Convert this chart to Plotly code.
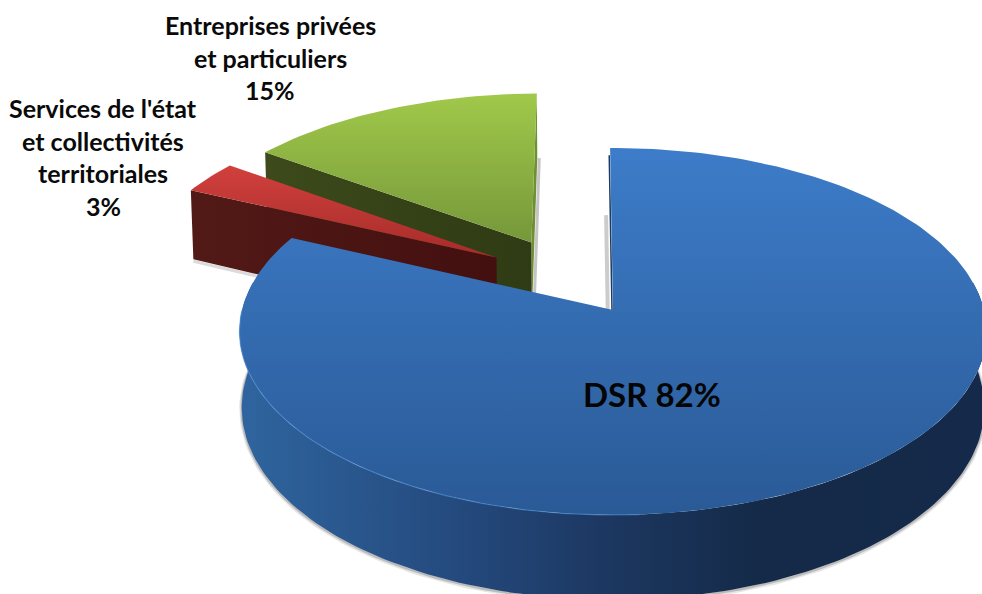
import numpy as np
import plotly.graph_objects as go

# shares in percent, clockwise from 12 o'clock
names = ["DSR", "Services", "Entreprises"]
shares = [82, 3, 15]
# exploded offset of each slice in disc units (right, back)
explode_u = [0, -0.325, -0.23]
explode_v = [0, 0.30, 0.39]

top_colors = [("#3d7cc9", "#2a5a96"), ("#d1403d", "#a52c2a"), ("#a0c84a", "#76983a")]

label_lines = [
    ("Entreprises privées", 270, 25), ("et particuliers", 270, 58), ("15%", 270, 90),
    ("Services de l'état", 103, 108), ("et collectivités", 103, 141),
    ("territoriales", 103, 173), ("3%", 103, 206),
]

CX, CY = 613, 310
A, B, K, D = 371, 181, 0.117, 75
font = "Lato, Carlito, sans-serif"


def project(theta, r=1.0, du=0.0, dv=0.0, z=0.0):
    u = r * np.sin(theta) + du
    v = r * np.cos(theta) + dv
    w = 1 + K * v
    x = CX + A * u * (1 - 0.006 * z) / w
    y = CY - B * v / w + D * z / w
    return x.tolist(), y.tolist()


def poly(fig, x, y, grad=None, color=None):
    kw = dict(fillgradient=grad) if grad else dict(fillcolor=color)
    fig.add_trace(go.Scatter(x=x, y=y, mode="lines", fill="toself", line=dict(width=0),
                             hoverinfo="skip", showlegend=False, **kw))


def line(fig, x, y, color, width):
    fig.add_trace(go.Scatter(x=x, y=y, mode="lines", line=dict(color=color, width=width),
                             hoverinfo="skip", showlegend=False))


def hgrad(stops, x0=180, x1=982):
    return dict(type="horizontal", start=x0, stop=x1, colorscale=stops)


def cut_face(fig, t, du, dv, grad):
    xa, ya = project(np.array([t, t]), r=np.array([0.0, 1.0]), du=du, dv=dv)
    xb, yb = project(np.array([t, t]), r=np.array([1.0, 0.0]), du=du, dv=dv, z=1)
    poly(fig, xa + xb, ya + yb, grad=grad)
    return xb, yb


fig = go.Figure()

edges = np.cumsum([0] + shares) / 100 * 2 * np.pi - np.radians(0.5)
green, red, blue = 2, 1, 0

# green slice
t0, t1 = edges[green], edges[green + 1]
du, dv = explode_u[green], explode_v[green]
xb, yb = project(np.array([t1, t1]), r=np.array([1.0, 0.0]), du=du, dv=dv, z=1)
line(fig, [v + 2 for v in xb], yb, "rgba(110,110,110,0.4)", 3)
xa, ya = project(np.array([t1, t1]), r=np.array([0.0, 1.0]), du=du, dv=dv)
poly(fig, xa + xb, ya + yb, color="#6f8f33")
cut_face(fig, t0, du, dv, hgrad([[0, "#3d4a1b"], [1, "#2e3b14"]], 264, 532))
arc = np.linspace(t0, t1, 40)
x, y = project(arc, du=du, dv=dv)
xc, yc = project(np.array([0.0]), r=0.0, du=du, dv=dv)
poly(fig, xc + x, yc + y, grad=dict(type="vertical", start=96, stop=241,
                                    colorscale=[[0, top_colors[green][0]], [1, top_colors[green][1]]]))

# red slice
t0, t1 = edges[red], edges[red + 1]
du, dv = explode_u[red], explode_v[red]
xb, yb = project(np.array([t0, t0]), r=np.array([1.0, 0.0]), du=du, dv=dv, z=1)
line(fig, xb, [v + 2 for v in yb], "rgba(110,110,110,0.25)", 3)
cut_face(fig, t0, du, dv, hgrad([[0, "#521a17"], [1, "#430f0f"]], 190, 499))
arc = np.linspace(t0, t1, 12)
x, y = project(arc, du=du, dv=dv)
xc, yc = project(np.array([0.0]), r=0.0, du=du, dv=dv)
poly(fig, xc + x, yc + y, grad=dict(type="vertical", start=166, stop=258,
                                    colorscale=[[0, top_colors[red][0]], [1, top_colors[red][1]]]))

# blue slice
t0, t1 = edges[blue], edges[blue + 1]
xb, yb = project(np.array([t0, t0]), r=np.array([1.0, 0.0]), z=1)
line(fig, [v - 4 for v in xb], yb, "rgba(110,110,110,0.35)", 4)
arc = np.linspace(np.pi * 0.45, np.pi * 1.55, 160)
xw, yw = project(arc, z=1)
line(fig, xw, [v + 1.5 for v in yw], "rgba(90,90,90,0.15)", 5)
line(fig, xw, [v + 1 for v in yw], "rgba(90,90,90,0.3)", 2.5)
xt, yt = project(arc)
poly(fig, xt + xw[::-1], yt + yw[::-1],
     grad=hgrad([[0, "#2f659f"], [0.3, "#24497d"], [0.5, "#1c3760"], [0.7, "#142a48"], [1, "#152a4a"]], 238, 982))
xe, ye = project(np.array([t0, t0]), r=np.array([0.95, 0.0]))
line(fig, [v - 1 for v in xe], ye, "#1d3a60", 1.5)
arc = np.linspace(t0, t1, 240)
x, y = project(arc)
xc, yc = project(np.array([0.0]), r=0.0)
poly(fig, xc + x, yc + y, grad=dict(type="vertical", start=149, stop=515,
                                    colorscale=[[0, top_colors[blue][0]], [1, top_colors[blue][1]]]))
rim = np.linspace(np.pi * 0.98, np.pi * 1.5, 90)
xr, yr = project(rim)
line(fig, xr, yr, "rgba(80,140,210,0.6)", 1.2)

for text, lx, ly in label_lines:
    fig.add_annotation(x=lx, y=ly, text=f"<b>{text}</b>", showarrow=False,
                       font=dict(family=font, size=25, color="#0a0a0a"))
fig.add_annotation(x=652, y=394, text="<b>DSR 82%</b>", showarrow=False,
                   font=dict(family=font, size=33, color="#050505"))

fig.update_layout(
    width=982, height=594, margin=dict(l=0, r=0, t=0, b=0),
    paper_bgcolor="white", plot_bgcolor="white", showlegend=False,
    xaxis=dict(range=[0, 982], visible=False),
    yaxis=dict(range=[594, 0], visible=False),
)
fig.write_html("out.html", config=dict(displayModeBar=False),
               post_script="document.body.style.margin='0';")
